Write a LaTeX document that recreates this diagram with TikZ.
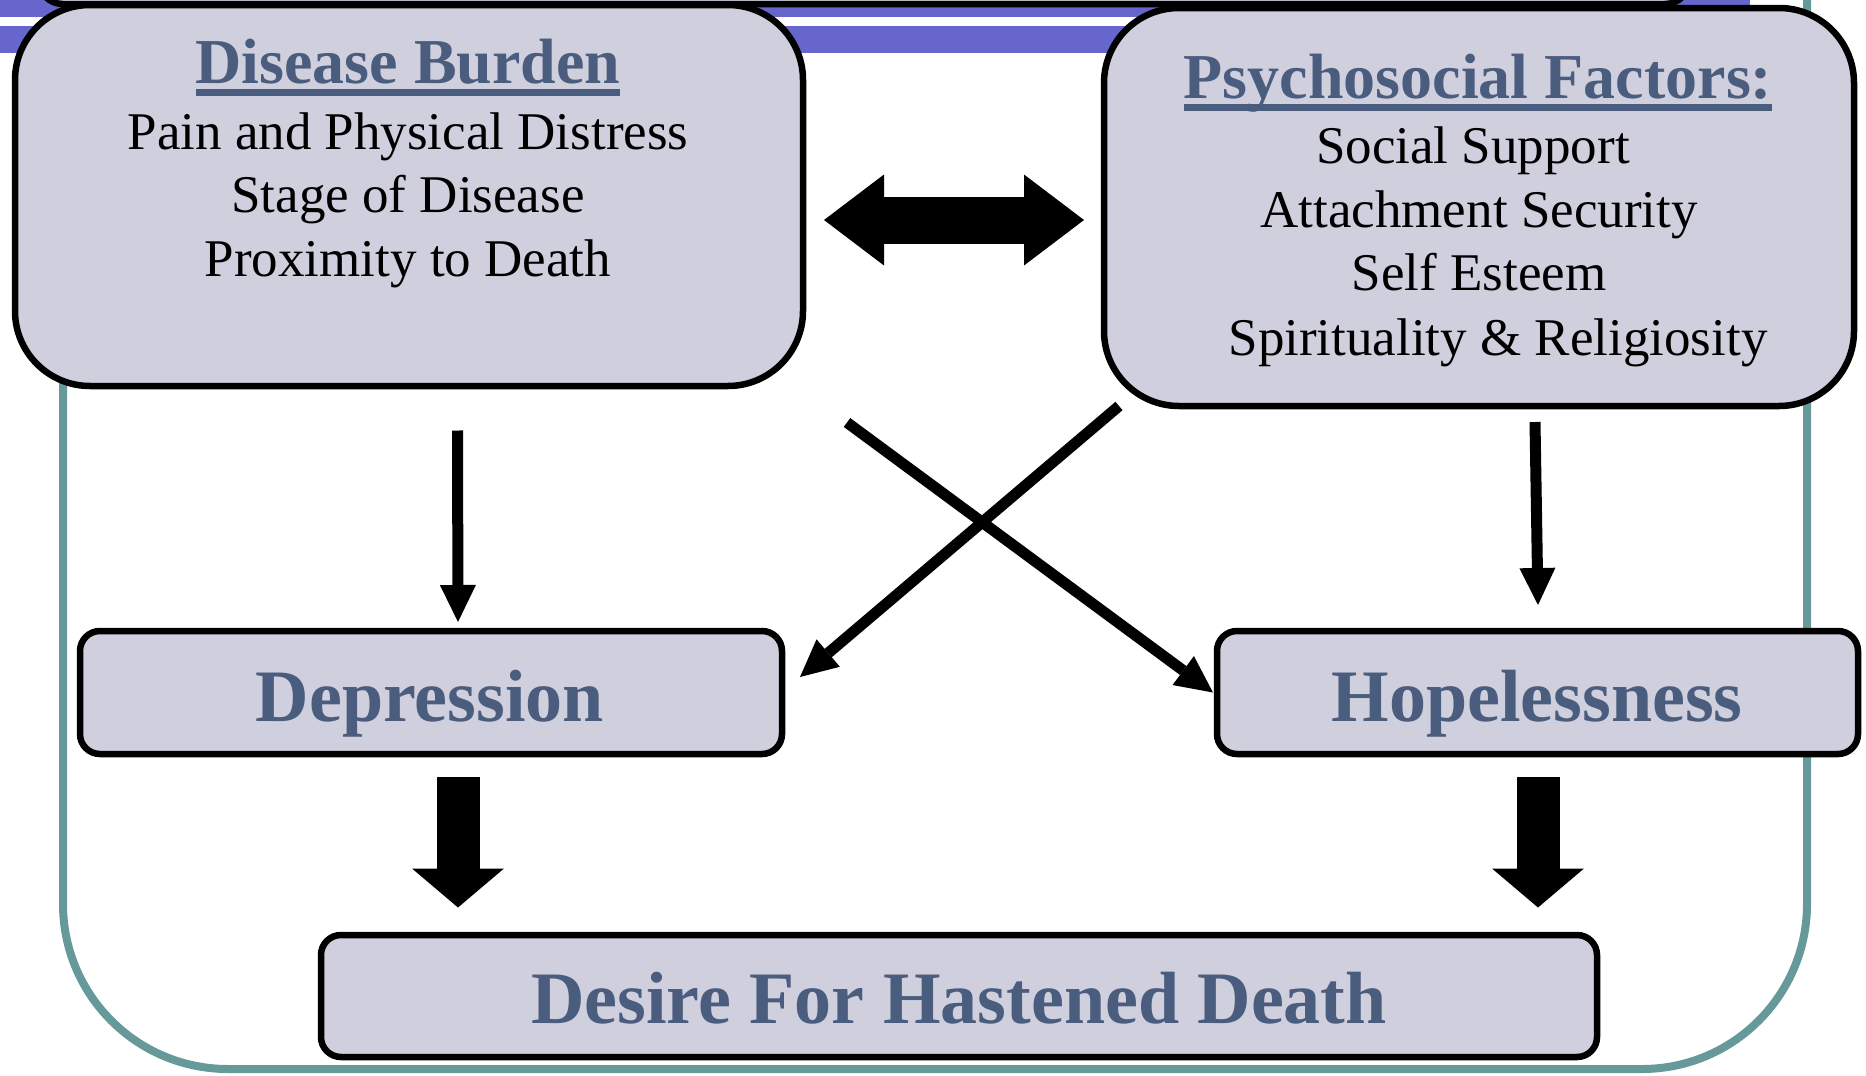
\documentclass[tikz,border=0pt]{standalone}
\usepackage{fontspec}
\setmainfont{Liberation Serif}
\usetikzlibrary{arrows.meta}

\definecolor{boxfill}{RGB}{208,207,222}
\definecolor{slate}{RGB}{74,93,126}
\definecolor{frameteal}{RGB}{102,153,153}
\definecolor{bandpurple}{RGB}{102,102,204}

\tikzset{
  box/.style={draw=black, line width=6.5pt, fill=boxfill, rectangle,
    inner sep=0pt, outer sep=0pt},
  bigbox/.style={box, rounded corners=75pt},
  smallbox/.style={box, rounded corners=20pt},
  txt/.style={inner sep=0pt, outer sep=0pt, anchor=base},
  heading/.style={txt, font=\fontsize{64}{64}\selectfont\bfseries, text=slate},
  body/.style={txt, font=\fontsize{53}{53}\selectfont},
  stagetext/.style={txt, font=\fontsize{74}{74}\selectfont\bfseries, text=slate},
  thinarrow/.style={line width=11pt, -{Triangle[length=37pt,width=36pt,line width=0pt]}},
  fatarrow/.style={line width=43pt, -{Triangle[length=39pt,width=92pt,line width=0pt]}},
  twoway/.style={line width=47pt,
    {Triangle[length=60pt,width=91pt,line width=0pt]}-{Triangle[length=60pt,width=91pt,line width=0pt]}},
}

\begin{document}
\begin{tikzpicture}[x=1pt,y=-1pt]
  \useasboundingbox (0,0) rectangle (1866,1076);
  \clip (0,0) rectangle (1866,1076);

  % outer teal frame
  \draw[frameteal, line width=8pt, rounded corners=165pt]
    (63,-200) -- (63,1069) -- (1807,1069) -- (1807,-200);

  % purple header bands
  \fill[bandpurple] (0,-20) rectangle (1750,17);
  \fill[bandpurple] (0,26) rectangle (1760,53);

  % title panel above, cut off by the page edge
  \draw[line width=6.5pt, fill=boxfill, rounded corners=25pt] (38,-80) rectangle (1690,4);

  % boxes
  \node[bigbox, minimum width=788pt, minimum height=381pt] (dbox) at (409,195.5) {};
  \node[bigbox, minimum width=750pt, minimum height=398pt] (pbox) at (1479,207) {};
  \node[smallbox, minimum width=702pt, minimum height=123pt] (depbox) at (431,692.5) {};
  \node[smallbox, minimum width=641pt, minimum height=123pt] (hopbox) at (1537.5,692.5) {};
  \node[smallbox, minimum width=1276pt, minimum height=122pt] (desbox) at (959,996) {};

  % disease burden text
  \node[heading] (dtitle) at (408,83) {Disease Burden};
  \fill[slate] ([yshift=-6pt]dtitle.base west) rectangle ([yshift=-13pt]dtitle.base east);
  \node[body] (dline1) at (408,149) {Pain and Physical Distress};
  \node[body] (dline2) at (408,212) {Stage of Disease};
  \node[body] (dline3) at (408,276) {Proximity to Death};

  % psychosocial text
  \node[heading] (ptitle) at (1478,98) {Psychosocial Factors:};
  \fill[slate] ([yshift=-6pt]ptitle.base west) rectangle ([yshift=-13pt]ptitle.base east);
  \node[body] (pline1) at (1473,163) {Social Support};
  \node[body] (pline2) at (1479,227) {Attachment Security};
  \node[body] (pline3) at (1479,290) {Self Esteem};
  \node[body] (pline4) at (1498,355) {Spirituality \& Religiosity};

  % outcome labels
  \node[stagetext] (deptext) at (430,721) {Depression};
  \node[stagetext] (hoptext) at (1537,721) {Hopelessness};
  \node[stagetext] (destext) at (959,1023) {Desire For Hastened Death};

  % connectors
  \draw[twoway] ([xshift=21pt,yshift=-24.5pt]dbox.east) -- ([xshift=-20pt,yshift=-13pt]pbox.west);
  \draw[thinarrow] ([xshift=48.5pt,yshift=-44.5pt]dbox.south) -- ([xshift=27pt,yshift=9pt]depbox.north);
  \draw[thinarrow] ([xshift=56pt,yshift=-16pt]pbox.south) -- ([xshift=0.5pt,yshift=26pt]hopbox.north);
  \draw[thinarrow] ([xshift=44pt,yshift=-36.5pt]dbox.south east) -- ([xshift=-4pt]hopbox.west);
  \draw[thinarrow] ([xshift=15pt,yshift=0pt]pbox.south west) -- ([xshift=18pt,yshift=15.5pt]depbox.east);
  \draw[fatarrow] ([xshift=27pt,yshift=-23pt]depbox.south) -- ([xshift=-501pt,yshift=27.5pt]desbox.north);
  \draw[fatarrow] ([xshift=0.5pt,yshift=-23pt]hopbox.south) -- ([xshift=579pt,yshift=27.5pt]desbox.north);
\end{tikzpicture}
\end{document}
